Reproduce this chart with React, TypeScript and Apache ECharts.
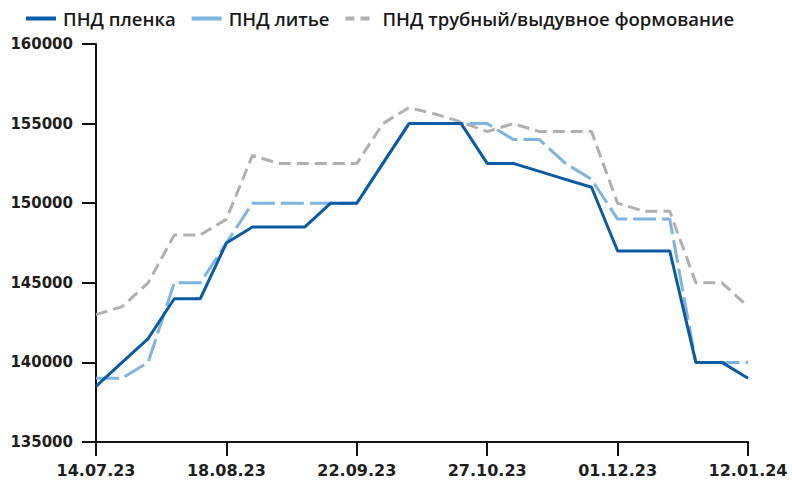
import React, { useEffect, useRef } from "react";
import * as echarts from "echarts";

const categories = [
  "14.07.23", "21.07.23", "28.07.23", "04.08.23", "11.08.23",
  "18.08.23", "25.08.23", "01.09.23", "08.09.23", "15.09.23",
  "22.09.23", "29.09.23", "06.10.23", "13.10.23", "20.10.23",
  "27.10.23", "03.11.23", "10.11.23", "17.11.23", "24.11.23",
  "01.12.23", "08.12.23", "15.12.23", "22.12.23", "29.12.23",
  "12.01.24",
];

const filmValues = [
  138500, 140000, 141500, 144000, 144000, 147500, 148500, 148500, 148500, 150000,
  150000, 152500, 155000, 155000, 155000, 152500, 152500, 152000, 151500, 151000,
  147000, 147000, 147000, 140000, 140000, 139000,
];

const castingValues = [
  139000, 139000, 140000, 145000, 145000, 147500, 150000, 150000, 150000, 150000,
  150000, 152500, 155000, 155000, 155000, 155000, 154000, 154000, 152500, 151500,
  149000, 149000, 149000, 140000, 140000, 140000,
];

const pipeValues = [
  143000, 143500, 145000, 148000, 148000, 149000, 153000, 152500, 152500, 152500,
  152500, 155000, 156000, 155600, 155100, 154500, 155000, 154500, 154500, 154500,
  150000, 149500, 149500, 145000, 145000, 143500,
];

const seriesNames = ["ПНД пленка", "ПНД литье", "ПНД трубный/выдувное формование"];

export default function App() {
  const ref = useRef<HTMLDivElement>(null);

  useEffect(() => {
    if (!ref.current) return;
    const chart = echarts.init(ref.current, null, { renderer: "svg" });
    const axisText = {
      color: "#1e1e1e",
      fontFamily: "DejaVu Sans",
      fontWeight: "bold" as const,
    };
    chart.setOption({
      animation: false,
      backgroundColor: "#ffffff",
      legend: {
        top: 4,
        left: 19,
        itemWidth: 30,
        itemHeight: 14,
        itemGap: 14,
        itemStyle: { opacity: 0, borderWidth: 0 },
        lineStyle: { width: 4 },
        textStyle: {
          fontFamily: "Open Sans",
          fontWeight: 600,
          fontSize: 18.5,
          color: "#1a1a1a",
          padding: [0, 0, 0, 2],
        },
        data: [
          { name: seriesNames[0] },
          { name: seriesNames[1], lineStyle: { type: "solid", width: 4 } },
          { name: seriesNames[2], lineStyle: { type: [9, 6], width: 4 } },
        ],
      },
      grid: { left: 96, right: 44, top: 44, bottom: 42, containLabel: false },
      xAxis: {
        type: "category",
        data: categories,
        boundaryGap: false,
        axisLine: { show: true, lineStyle: { color: "#111", width: 2 } },
        axisTick: {
          show: true,
          length: 14,
          interval: 4,
          lineStyle: { color: "#111", width: 2 },
        },
        axisLabel: { ...axisText, fontSize: 16, interval: 4, margin: 20 },
        splitLine: { show: false },
      },
      yAxis: {
        type: "value",
        min: 135000,
        max: 160000,
        interval: 5000,
        axisLine: { show: true, lineStyle: { color: "#111", width: 2 } },
        axisTick: { show: true, length: 14, lineStyle: { color: "#111", width: 2 } },
        axisLabel: {
          ...axisText,
          fontSize: 15,
          margin: 23,
          formatter: (v: number) => String(v),
        },
        splitLine: { show: false },
      },
      series: [
        {
          name: seriesNames[0],
          type: "line",
          data: filmValues,
          symbol: "none",
          lineStyle: { color: "#0a5ba5", width: 3 },
          itemStyle: { color: "#0a5ba5" },
          z: 3,
        },
        {
          name: seriesNames[1],
          type: "line",
          data: castingValues,
          symbol: "none",
          lineStyle: { color: "#7db4e0", width: 3, type: [23, 6] },
          itemStyle: { color: "#7db4e0" },
          z: 2,
        },
        {
          name: seriesNames[2],
          type: "line",
          data: pipeValues,
          symbol: "none",
          lineStyle: { color: "#b0b0b0", width: 3, type: [12, 6] },
          itemStyle: { color: "#b0b0b0" },
          z: 1,
        },
      ],
    });
    return () => chart.dispose();
  }, []);

  return (
    <div
      ref={ref}
      style={{ position: "fixed", left: 0, top: 0, width: 792, height: 484 }}
    />
  );
}
